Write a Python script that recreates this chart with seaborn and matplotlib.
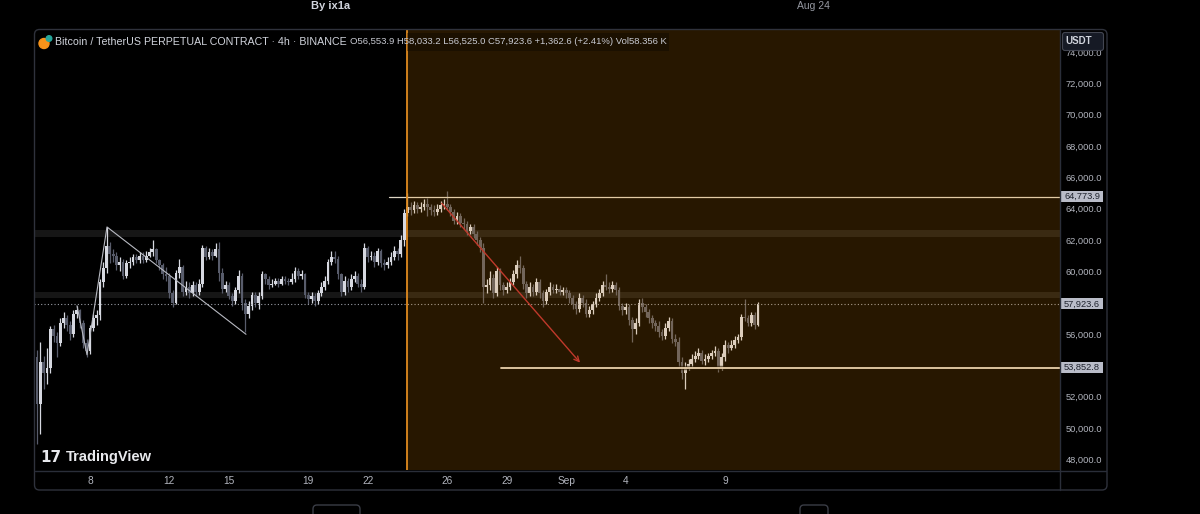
import numpy as np
import pandas as pd
import matplotlib
matplotlib.use("Agg")
import matplotlib.pyplot as plt
import matplotlib.transforms as mtransforms
from matplotlib.patches import FancyBboxPatch, Rectangle, Circle
import seaborn as sns

# ---------------- data (BTCUSDT perpetual, 4h candles) ----------------
first_open = 54500
closes = [
    51500, 54200, 53500, 53800, 56300, 55900, 55400, 56700, 57000, 56600,
    56000, 57300, 57500, 56700, 55400, 54900, 56400, 57000, 57200, 59300,
    60200, 61600, 61100, 61000, 60400, 60600, 59700, 60500, 60600, 60900,
    60700, 61000, 60700, 61000, 61200, 61400, 60700, 60400, 59800, 59700,
    58600, 58000, 59900, 60300, 58700, 59000, 58600, 59100, 58700, 59200,
    61500, 60900, 61200, 61000, 61400, 59900, 58900, 59100, 58400, 58100,
    58800, 59700, 58000, 57300, 57800, 58500, 58000, 58400, 59800, 59500,
    59100, 59200, 59400, 59200, 59500, 59400, 59300, 59500, 60000, 59700,
    59800, 58500, 58200, 58400, 58100, 58600, 59000, 59400, 60600, 60900,
    60800, 59800, 58700, 59400, 59000, 59500, 59700, 59200, 59000, 61500,
    60900, 61000, 60600, 61300, 60500, 60400, 60600, 60900, 61300, 61100,
    62000, 63700, 64100, 63900, 64200, 64000, 64100, 64300, 64100, 63900,
    63800, 64000, 64200, 64300, 64100, 63800, 63200, 63500, 63100, 63000,
    62600, 62800, 62400, 62000, 61500, 59000, 59100, 59600, 58600, 60000,
    59100, 58800, 59000, 59300, 59800, 60400, 60200, 59200, 58600, 59000,
    58700, 59300, 58600, 58100, 58700, 59000, 58800, 58900, 58700, 58800,
    58600, 58300, 57900, 57600, 58300, 58000, 57300, 57500, 57900, 58300,
    58600, 59100, 59000, 58900, 59100, 58800, 57800, 57500, 57700, 56900,
    56300, 56700, 58000, 57700, 57400, 57000, 56700, 56500, 56100, 55900,
    56400, 56800, 55700, 55500, 54200, 53500, 53900, 54100, 54400, 54600,
    54800, 54300, 54400, 54600, 54800, 54900, 53900, 54500, 55300, 55100,
    55300, 55600, 55800, 57100, 57000, 56700, 57200, 56553.9, 57923.6,
]
highs = [
    55000, 55500, 54600, 55100, 56500, 56600, 56100, 57000, 57400, 57200,
    56800, 57500, 57800, 57600, 56900, 55700, 56600, 57300, 57500, 59500,
    60600, 62830, 61900, 61400, 61200, 60900, 60800, 60700, 60900, 61100,
    61100, 61200, 61200, 61300, 61500, 62000, 61500, 60800, 60500, 60300,
    59900, 58800, 60100, 60800, 60400, 59400, 59300, 59400, 59300, 59500,
    61700, 61600, 61500, 61400, 61800, 61900, 60200, 59400, 59300, 58600,
    59000, 60100, 59900, 58200, 58100, 58700, 58700, 58700, 60000, 59900,
    59700, 59500, 59600, 59600, 59700, 59700, 59600, 59900, 60300, 60200,
    60100, 59900, 58700, 58700, 58600, 58800, 59300, 59700, 60800, 61300,
    61300, 61000, 59900, 59700, 59600, 59800, 60000, 59900, 59500, 61800,
    61600, 61300, 61200, 61500, 61400, 60800, 60900, 61200, 61600, 61500,
    62300, 64000, 65000, 64400, 64500, 64400, 64400, 64600, 64700, 64300,
    64200, 64300, 64500, 64600, 65150, 64300, 64000, 63800, 63700, 63400,
    63200, 63000, 63000, 62600, 62200, 61800, 59500, 60000, 59800, 60300,
    60200, 59300, 59300, 59600, 60100, 60700, 61000, 60400, 59400, 59300,
    59200, 59600, 59500, 58800, 58900, 59300, 59200, 59200, 59100, 59000,
    59000, 58800, 58500, 58100, 58600, 58500, 58200, 57800, 58100, 58600,
    58900, 59400, 59800, 59300, 59400, 59300, 59000, 58000, 58000, 57900,
    57100, 57000, 58200, 58300, 57900, 57600, 57200, 56900, 56800, 56300,
    56700, 57100, 57000, 56000, 55800, 54500, 54200, 54400, 54700, 54900,
    55100, 55000, 54700, 54800, 55000, 55200, 55100, 54800, 55600, 55500,
    55600, 55900, 56000, 57300, 58200, 57200, 57400, 57400, 58033.2,
]
lows = [
    49000, 49600, 52500, 52800, 53500, 55500, 54500, 55200, 56400, 56200,
    55600, 55800, 57000, 56400, 55100, 54500, 54700, 56200, 56600, 56900,
    59000, 59900, 60500, 60600, 60100, 60000, 59500, 59600, 60200, 60400,
    60500, 60500, 60500, 60600, 60900, 61000, 60500, 60100, 59500, 59400,
    58300, 57700, 57900, 59600, 58400, 58500, 58300, 58400, 58400, 58500,
    59000, 60700, 60800, 60700, 60900, 59400, 58600, 58700, 58200, 57800,
    57900, 58600, 57500, 56100, 57000, 57500, 57700, 57600, 58200, 59200,
    58900, 59000, 59100, 59000, 59100, 59200, 59100, 59200, 59300, 59500,
    59500, 58300, 57900, 58000, 57800, 57900, 58400, 58800, 59200, 60400,
    60500, 59500, 58400, 58500, 58700, 58800, 59300, 59000, 58700, 58900,
    60600, 60700, 60300, 60400, 60300, 60100, 60200, 60400, 60700, 60700,
    60900, 61600, 63500, 63600, 63700, 63700, 63800, 63900, 63500, 63600,
    63500, 63600, 63800, 64000, 63900, 63500, 63000, 63000, 62800, 62700,
    62300, 62400, 62100, 61700, 61200, 58000, 58600, 58800, 58300, 58400,
    58800, 58500, 58600, 58800, 59100, 59600, 59900, 58900, 58300, 58400,
    58400, 58500, 58300, 57700, 57900, 58500, 58600, 58600, 58500, 58500,
    58300, 58000, 57600, 57300, 57400, 57700, 57100, 57100, 57300, 57700,
    58100, 58400, 58800, 58600, 58700, 58500, 57500, 57200, 57300, 56600,
    55500, 56000, 56500, 57400, 57100, 56700, 56400, 56200, 55800, 55600,
    55700, 56200, 55400, 55200, 53900, 53100, 52500, 53700, 53900, 54200,
    54400, 54100, 54000, 54200, 54400, 54600, 53600, 53700, 54300, 54800,
    55000, 55100, 55400, 55600, 56800, 56500, 56500, 56300, 56525.0,
]
candle_start = "2024-08-05 08:00"

tick_days = [7, 11, 14, 18, 21, 25, 28, 31, 34, 39]
tick_labels = ["8", "12", "15", "19", "22", "26", "29", "Sep", "4", "9"]
price_ticks = [48000, 50000, 52000, 56000, 60000, 62000, 64000, 66000, 68000, 70000, 72000, 74000]

zone_bands = [(62190, 62640), (58300, 58690)]
resistance_level = 64773.9
support_level = 53852.8
last_price = 57923.6
highlight_start_day = 23.0       # Aug 24 00:00
res_line_start_day = 22.05
sup_line_start_day = 27.7
zigzag_days = [6.345, 6.849, 7.857, 14.863]
zigzag_prices = [57800, 54670, 62830, 55980]
arrow_from = (24.73, 64340)
arrow_to = (31.70, 54170)

# ---------------- style ----------------
sns.set_theme(style="dark")
plt.rcParams['font.family'] = ['Liberation Sans', 'DejaVu Sans']
plt.rcParams['axes.unicode_minus'] = False

W, H = 1200, 514
fig = plt.figure(figsize=(W / 100, H / 100), dpi=100, facecolor='black')
L, R, T, B = 34, 1060, 30, 470
ax = fig.add_axes([L / W, (H - B) / H, (R - L) / W, (B - T) / H])
ax.set_facecolor('black')
for s in ax.spines.values():
    s.set_visible(False)
ax.grid(False)

t = pd.date_range(candle_start, periods=len(closes), freq="4h")
xd = np.asarray((t - pd.Timestamp("2024-08-01")) / pd.Timedelta(days=1), dtype=float)
c = np.asarray(closes, dtype=float)
o = np.r_[first_open, c[:-1]]
hi = np.asarray(highs, dtype=float)
lo = np.asarray(lows, dtype=float)
up = c >= o
up_col, dn_col = '#d6d8e0', '#585c6b'
cols = np.where(up, up_col, dn_col)

xmin = 7 - 56 / 19.84
xmax = 7 + 970 / 19.84
ymin, ymax = 47317, 75402
ax.set_xlim(xmin, xmax)
ax.set_ylim(ymin, ymax)

# zones
for lo_b, hi_b in zone_bands:
    ax.axhspan(lo_b, hi_b, color='white', alpha=0.09, lw=0, zorder=1)

# candles
ax.vlines(xd, lo, hi, colors=cols, lw=0.9, zorder=2)
ax.bar(xd, np.maximum(np.abs(c - o), 50), bottom=np.minimum(o, c), width=0.14,
       color=cols, linewidth=0, zorder=2.5)

# current price dotted line
ax.axhline(last_price, color='#9a9da6', lw=0.8, ls=(0, (1, 2)), zorder=2.6)

# horizontal levels
ax.plot([res_line_start_day, xmax], [resistance_level] * 2, color='#ddd5c4', lw=0.9, zorder=2.7)
ax.plot([sup_line_start_day, xmax], [support_level] * 2, color='black', lw=3.2, alpha=0.6, zorder=2.7)
ax.plot([sup_line_start_day, xmax], [support_level] * 2, color='#e6dccb', lw=1.3, zorder=2.8)

# zigzag drawing
zz = pd.DataFrame({"day": zigzag_days, "price": zigzag_prices})
sns.lineplot(data=zz, x="day", y="price", sort=False, estimator=None, ax=ax,
             color='#b8bac2', lw=0.8, zorder=2.9)
ax.set_xlabel("")
ax.set_ylabel("")

# highlighted period (orange overlay)
ax.axvspan(highlight_start_day, xmax + 5, color='#ff9800', alpha=0.155, lw=0, zorder=3)
ax.axvline(highlight_start_day, color='#e08a1f', lw=1.3, zorder=4)

# red arrow
ax.annotate('', xy=arrow_to, xytext=arrow_from,
            arrowprops=dict(arrowstyle='->', color='#c0392b', lw=1.0, mutation_scale=9,
                            shrinkA=0, shrinkB=0), zorder=5)

# axes ticks
ax.set_xticks(tick_days)
ax.set_xticklabels(tick_labels)
ax.yaxis.tick_right()
ax.set_yticks(price_ticks)
ax.set_yticklabels([f"{v:,.1f}" for v in price_ticks])
ax.tick_params(axis='x', length=0, pad=4.5, labelsize=7.3, colors='#b2b5be')
ax.tick_params(axis='y', length=0, pad=4.3, labelsize=6.7, colors='#b2b5be')

# price boxes on the axis
btr = mtransforms.blended_transform_factory(ax.transAxes, ax.transData)
px = (ymax - ymin) / (B - T)
x0 = (1060.7 - L) / (R - L)
x1 = (1103.3 - L) / (R - L)
for val in (resistance_level, last_price, support_level):
    ax.add_patch(Rectangle((x0, val - 5.6 * px), x1 - x0, 11.2 * px, transform=btr,
                           facecolor='#b9bcc8', edgecolor='none', clip_on=False, zorder=6))
    ax.text((x0 + x1) / 2, val, f"{val:,.1f}", transform=btr, ha='center', va='center',
            fontsize=6.7, color='#1e222d', clip_on=False, zorder=7)

# ---------------- overlay decorations (pixel coords) ----------------
ov = fig.add_axes([0, 0, 1, 1], zorder=10)
ov.set_xlim(0, W)
ov.set_ylim(H, 0)
ov.axis('off')
ov.patch.set_alpha(0)

ov.add_patch(FancyBboxPatch((34.5, 29.5), 1072.5, 460.5, boxstyle='round,pad=0,rounding_size=5',
                            fill=False, ec='#2f323c', lw=1))
ov.plot([1060, 1060], [30, 490], color='#2a2e39', lw=1)
ov.plot([35, 1106], [470.5, 470.5], color='#2a2e39', lw=1)

# USDT box
ov.add_patch(FancyBboxPatch((1062.5, 32.5), 41, 18, boxstyle='round,pad=0,rounding_size=2.5',
                            facecolor='#161a25', ec='#434651', lw=0.8, zorder=5))
ov.text(1065, 41.5, "USDT", fontsize=7.0, color='#d1d4dc', ha='left', va='center',
        fontweight='bold', zorder=6)

# header texts
ov.text(331, 6, "By ix1a", fontsize=8, color='#d1d4dc', ha='center', va='center', fontweight='bold')
ov.text(813, 6, "Aug 24", fontsize=7.5, color='#9598a1', ha='center', va='center')

# legend row
ov.add_patch(Rectangle((407, 33), 262, 18, facecolor='black', alpha=0.3, lw=0))
ov.add_patch(Circle((44, 43.5), 5, color='#f7931a'))
ov.add_patch(Circle((49, 38.5), 2.8, color='#26a69a'))
ov.text(55, 42, "Bitcoin / TetherUS PERPETUAL CONTRACT · 4h · BINANCE", fontsize=7.65,
        color='#d1d4dc', ha='left', va='center')
ov.text(350, 42, "O56,553.9 H58,033.2 L56,525.0 C57,923.6 +1,362.6 (+2.41%) Vol58.356 K",
        fontsize=6.8, color='#c8cad2', ha='left', va='center')

# TradingView logo
ov.text(40, 457, "17", fontsize=11, color='#e8e9ed', ha='left', va='center', fontweight='bold',
        family=['DejaVu Sans'])
ov.text(66, 457, "TradingView", fontsize=10.5, color='#e8e9ed', ha='left', va='center',
        fontweight='bold')

# partial buttons below the panel
for bx, bw in ((313, 47), (800, 28)):
    ov.add_patch(FancyBboxPatch((bx, 505), bw, 20, boxstyle='round,pad=0,rounding_size=4',
                                fill=False, ec='#3a3d46', lw=1))

fig.savefig("out.png", dpi=100, facecolor='black')
